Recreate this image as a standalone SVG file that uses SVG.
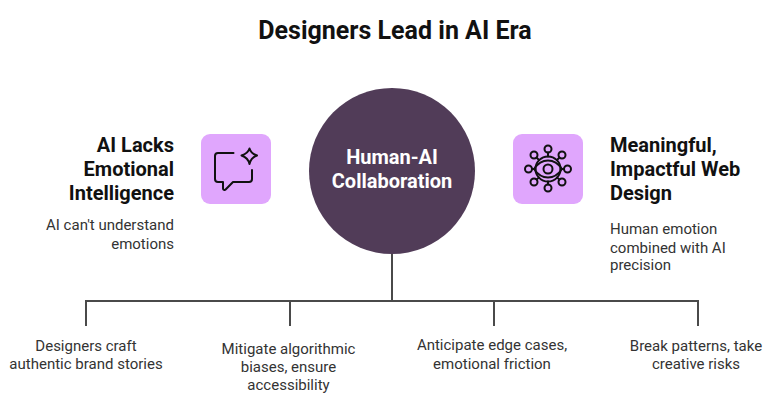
<svg xmlns="http://www.w3.org/2000/svg" width="775" height="413" viewBox="0 0 775 413">
<style>
text{font-family:Roboto,"Liberation Sans",sans-serif;fill:#1a1a1a}
.t{font-size:15px;fill:#333;font-weight:400}
.h{font-size:20px;font-weight:700;fill:#111}
.c{font-size:20px;font-weight:700;fill:#fff;text-anchor:middle}
.e{text-anchor:end}
.m{text-anchor:middle}
.ic{fill:none;stroke:#111;stroke-width:2;stroke-linecap:round;stroke-linejoin:round}
.box{fill:#e0a6fd}
.con{fill:none;stroke:#4a4a4a;stroke-width:2}
</style>
<rect width="775" height="413" fill="#fff"/>
<text id="title" x="395" y="39" class="m" style="font-size:25px;font-weight:700;fill:#111">Designers Lead in AI Era</text>
<g id="connectors">
<path class="con" d="M392 250V301M86 326V301H698V326M290 301V326M494 301V326"/>
</g>
<g id="center">
<circle cx="392" cy="171" r="83" fill="#513c58"/>
<text x="392" y="164" class="c">Human-AI</text>
<text x="392" y="188" class="c">Collaboration</text>
</g>
<g id="left-node">
<rect class="box" x="201" y="134" width="70" height="70" rx="9"/>
<path class="ic" d="M233.500 153H218a3 3 0 0 0-3 3V179a3 3 0 0 0 3 3H223V188.500a1.500 1.500 0 0 0 2.600 1L233 182H249a3 3 0 0 0 3-3V170"/>
<path class="ic" d="M249.500 148.500C250.500 152 252.500 154 257 155.500C252.500 157 250.500 159.500 249.500 164C248.500 159.500 246 157 241.500 155.500C246 154 248.500 152 249.500 148.500Z"/>
<text class="h e" x="174" y="152">AI Lacks</text>
<text class="h e" x="174" y="176">Emotional</text>
<text class="h e" x="174" y="200">Intelligence</text>
<text class="t e" x="174" y="230">AI can't understand</text>
<text class="t e" x="174" y="249">emotions</text>
</g>
<g id="right-node">
<rect class="box" x="513" y="134" width="70" height="70" rx="9"/>
<g class="ic">
<circle cx="548" cy="169" r="12.500"/>
<path d="M534 169C538 163 543 160.500 548 160.500C553 160.500 558 163 562 169C558 175 553 177.500 548 177.500C543 177.500 538 175 534 169Z"/>
<circle cx="548" cy="169" r="4.500"/>
<circle cx="548" cy="149" r="3.500"/><circle cx="548" cy="188" r="3.500"/>
<circle cx="528.500" cy="169" r="3.500"/><circle cx="567.500" cy="169" r="3.500"/>
<circle cx="534" cy="155" r="3.500"/><circle cx="562" cy="155" r="3.500"/>
<circle cx="534" cy="182" r="3.500"/><circle cx="562" cy="182" r="3.500"/>
<path d="M548 152.500V156.500M548 181.500V184.500M532 169H535.500M560.500 169H564M536.500 157.500L539 160M559.500 157.500L557 160M536.500 179.500L539 177.500M559.500 179.500L557 177.500"/>
</g>
<text class="h" x="610" y="152">Meaningful,</text>
<text class="h" x="610" y="176">Impactful Web</text>
<text class="h" x="610" y="200">Design</text>
<text class="t" x="610" y="234">Human emotion</text>
<text class="t" x="610" y="253">combined with AI</text>
<text class="t" x="610" y="270">precision</text>
</g>
<g id="leaf-1"><text class="t m" x="86" y="351">Designers craft</text><text class="t m" x="86" y="369">authentic brand stories</text></g>
<g id="leaf-2"><text class="t m" x="288.500" y="354">Mitigate algorithmic</text><text class="t m" x="288.500" y="372">biases, ensure</text><text class="t m" x="288.500" y="390">accessibility</text></g>
<g id="leaf-3"><text class="t m" x="492" y="350">Anticipate edge cases,</text><text class="t m" x="492" y="369">emotional friction</text></g>
<g id="leaf-4"><text class="t m" x="696" y="351">Break patterns, take</text><text class="t m" x="696" y="369">creative risks</text></g>
</svg>
